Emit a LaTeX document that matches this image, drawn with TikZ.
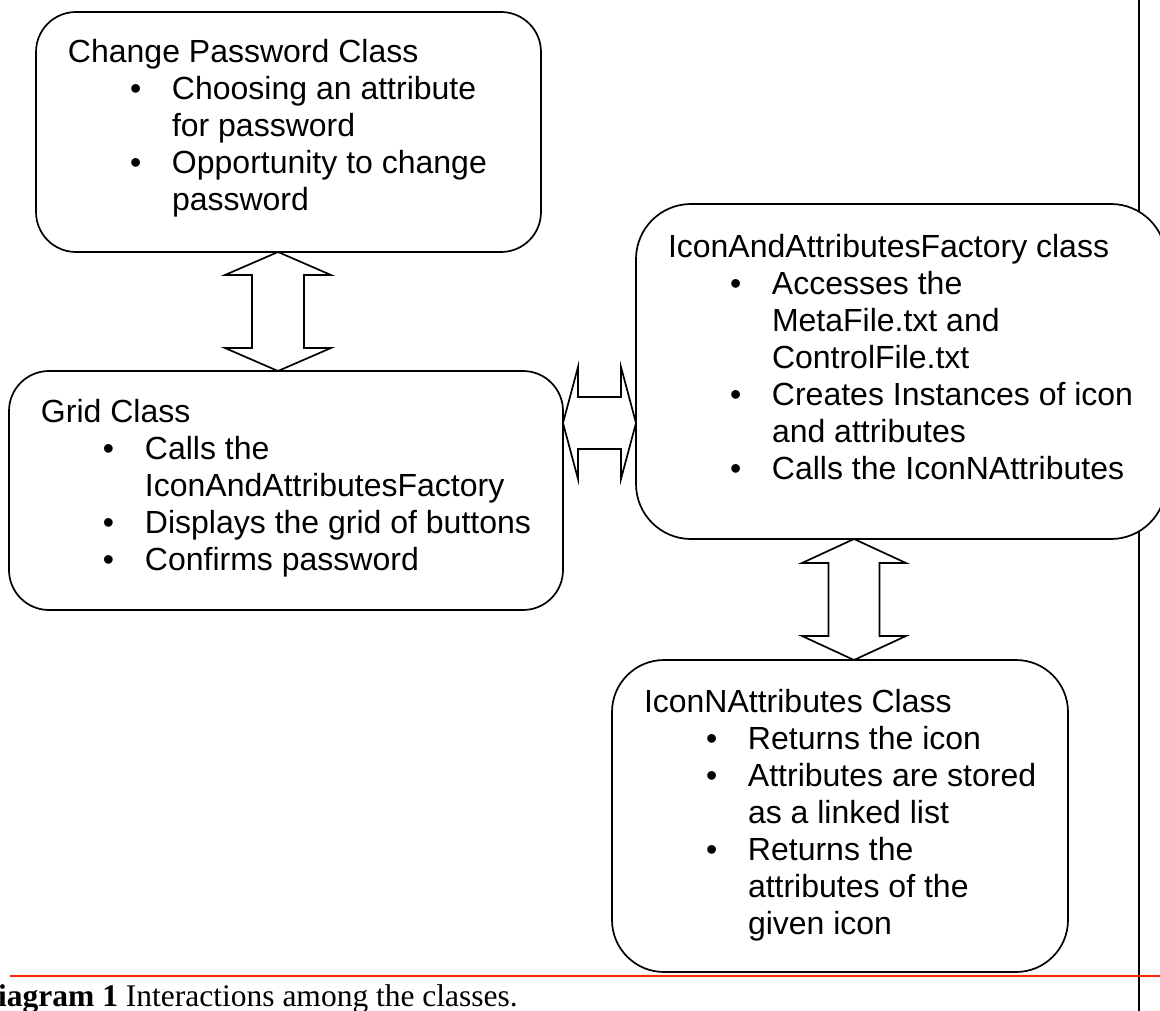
\documentclass[tikz,border=0pt]{standalone}
\usepackage{fontspec}
\setmainfont{Liberation Sans}
\newfontfamily\captionserif{Liberation Serif}
\usetikzlibrary{calc}
\definecolor{ruleRed}{RGB}{255,40,0}

% text block of a class box: width, height, first-baseline offset, body
\newcommand{\classcontent}[4]{%
  \begin{minipage}[c][#2][t]{#1}%
    \raggedright\leftskip=32pt\fontsize{32}{37}\selectfont
    \rule{0pt}{#3}#4%
  \end{minipage}}
% one bulleted entry; continuation lines hang under the text
\newcommand{\bul}{\par\hangindent=104pt\hangafter=1\noindent\hspace*{62pt}\makebox[42pt][l]{•}}

% vertical double block arrow: top tip, bottom tip, head half width, shaft half width, head length
\newcommand{\vdoublearrow}[5]{%
  \path[blockarrow] let \p1=#1, \p2=#2 in
    (\x1,\y1) -- (\x1+#3,\y1-#5) -- (\x1+#4,\y1-#5) -- (\x1+#4,\y2+#5) -- (\x1+#3,\y2+#5)
    -- (\x1,\y2) -- (\x1-#3,\y2+#5) -- (\x1-#4,\y2+#5) -- (\x1-#4,\y1-#5) -- (\x1-#3,\y1-#5) -- cycle;}
% horizontal double block arrow: left tip, right tip, head half height, shaft half height, head length
\newcommand{\hdoublearrow}[5]{%
  \path[blockarrow] let \p1=#1, \p2=#2 in
    (\x1,\y1) -- (\x1+#5,\y1+#3) -- (\x1+#5,\y1+#4) -- (\x2-#5,\y1+#4) -- (\x2-#5,\y1+#3)
    -- (\x2,\y1) -- (\x2-#5,\y1-#3) -- (\x2-#5,\y1-#4) -- (\x1+#5,\y1-#4) -- (\x1+#5,\y1-#3) -- cycle;}

\begin{document}
\begin{tikzpicture}[x=1pt,y=-1pt,
  classbox/.style={draw, line width=1.7pt, fill=white, inner sep=0pt, outer sep=0pt, anchor=north west},
  blockarrow/.style={draw, line width=1.7pt, fill=white, line join=miter},
  marginrule/.style={line width=1.8pt},
  captionrule/.style={line width=2.4pt, draw=ruleRed}]
  \useasboundingbox[fill=white] (0,0) rectangle (1160,1011);

  % page margin and caption rules
  \draw[marginrule] (1139,0) -- (1139,1011);
  \draw[captionrule] (10,976) -- (1160,976);

  % class boxes
  \node[classbox, rounded corners=40pt] (pwd) at (36,12) {\classcontent{505pt}{240pt}{51pt}{%
    Change Password Class
    \bul Choosing an attribute\newline for password
    \bul Opportunity to change\newline password}};

  \node[classbox, rounded corners=40pt] (grid) at (9,371) {\classcontent{554pt}{239pt}{51pt}{%
    Grid Class
    \bul Calls the\newline IconAndAttributesFactory
    \bul Displays the grid of buttons
    \bul Confirms password}};

  \node[classbox, rounded corners=55pt] (factory) at (636,204) {\classcontent{530pt}{335pt}{53pt}{%
    IconAndAttributesFactory class
    \bul Accesses the\newline MetaFile.txt and\newline ControlFile.txt
    \bul Creates Instances of icon\newline and attributes
    \bul Calls the IconNAttributes}};

  \node[classbox, rounded corners=52pt] (icon) at (612,660) {\classcontent{456pt}{312pt}{52pt}{%
    IconNAttributes Class
    \bul Returns the icon
    \bul Attributes are stored\newline as a linked list
    \bul Returns the\newline attributes of the\newline given icon}};

  % interactions between the classes
  \vdoublearrow{(278,0 |- pwd.south)}{(278,0 |- grid.north)}{53pt}{26pt}{23pt}
  \hdoublearrow{(grid.east |- 0,423)}{(factory.west |- 0,423)}{56pt}{26pt}{15pt}
  \vdoublearrow{(854,0 |- factory.south)}{(854,0 |- icon.north)}{52pt}{25.5pt}{24pt}

  % caption
  \node[anchor=base west, inner sep=0pt, font=\captionserif\fontsize{31.5}{36}\selectfont]
    (caption) at (-2,1006) {\textbf{iagram 1} Interactions among the classes.};
\end{tikzpicture}
\end{document}
